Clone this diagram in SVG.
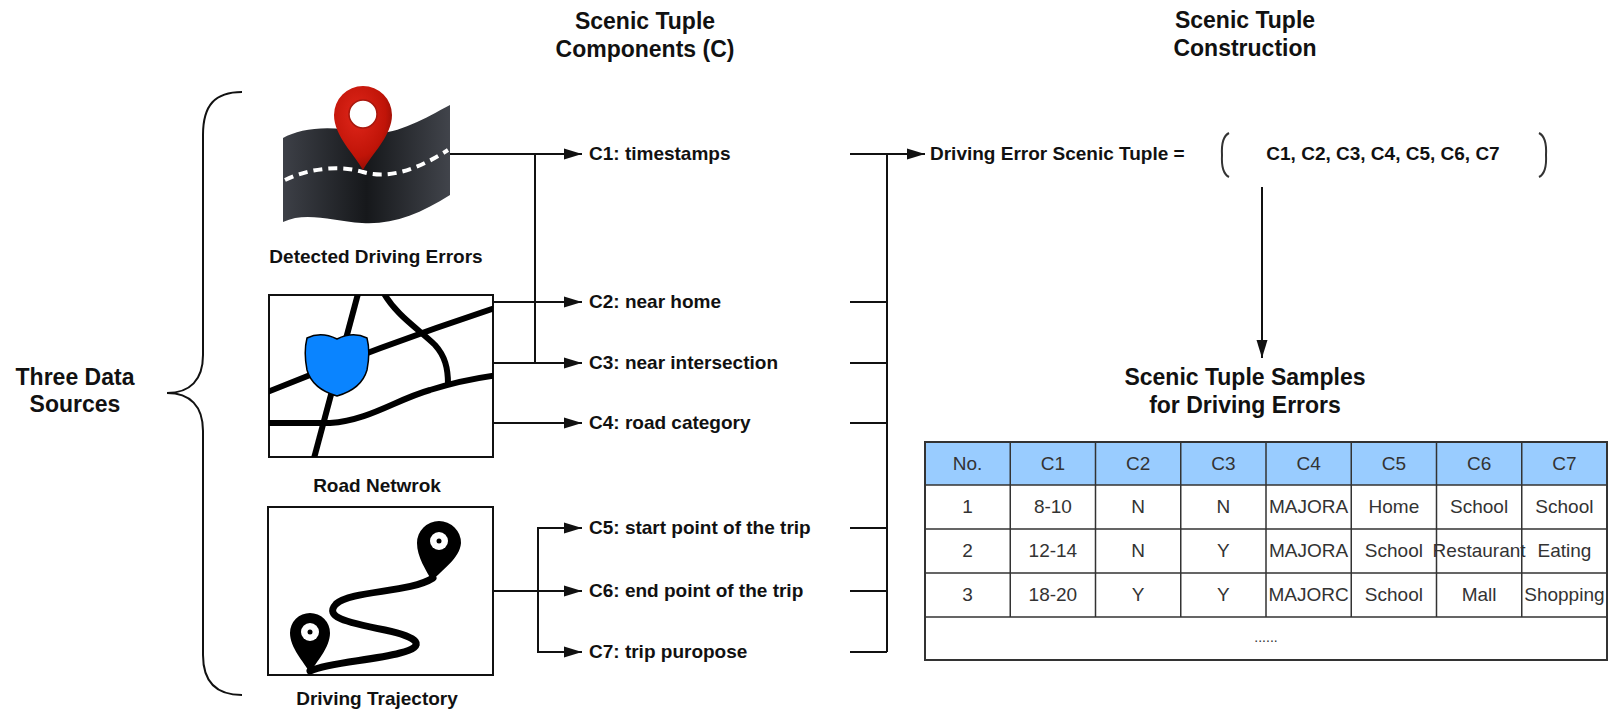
<svg xmlns="http://www.w3.org/2000/svg" width="1608" height="713" viewBox="0 0 1608 713">
  <style>
    text { font-family: "Liberation Sans", Arial, sans-serif; fill: #111; }
    .title { font-size: 23px; font-weight: bold; text-anchor: middle; }
    .label { font-size: 19px; font-weight: bold; }
    .caption { font-size: 19px; font-weight: bold; text-anchor: middle; }
    .cell { font-size: 19px; text-anchor: middle; fill: #333; }
    .wire { fill: none; stroke: #111; stroke-width: 2; }
    .frame { fill: #fff; stroke: #111; stroke-width: 2; }
    .road { fill: none; stroke: #000; stroke-width: 6; stroke-linecap: butt; }
    .grid { fill: none; stroke: #333; stroke-width: 1.5; }
  </style>
  <defs>
    <marker id="arrow" viewBox="0 0 18 12" refX="18" refY="6" markerWidth="18" markerHeight="12" markerUnits="userSpaceOnUse" orient="auto">
      <path d="M0,0.5 L18,6 L0,11.5 Z" fill="#111"/>
    </marker>
    <linearGradient id="asphalt" x1="0" y1="0" x2="1" y2="0">
      <stop offset="0" stop-color="#3d4047"/>
      <stop offset="0.5" stop-color="#16181b"/>
      <stop offset="1" stop-color="#41444b"/>
    </linearGradient>
    <radialGradient id="pinRed" cx="0.4" cy="0.35" r="0.7">
      <stop offset="0" stop-color="#e0261a"/>
      <stop offset="0.7" stop-color="#c01408"/>
      <stop offset="1" stop-color="#8c0c05"/>
    </radialGradient>
    <clipPath id="roadClip">
      <rect x="269" y="295" width="224" height="162"/>
    </clipPath>
  </defs>

  <!-- column headings -->
  <g id="heading-components">
    <text class="title" x="645" y="29">Scenic Tuple</text>
    <text class="title" x="645" y="57">Components (C)</text>
  </g>
  <g id="heading-construction">
    <text class="title" x="1245" y="28">Scenic Tuple</text>
    <text class="title" x="1245" y="56">Construction</text>
  </g>

  <!-- data sources with brace -->
  <g id="three-data-sources">
    <text class="title" x="75" y="385">Three Data</text>
    <text class="title" x="75" y="412">Sources</text>
    <path class="wire" d="M242,92 C215,92 203,105 203,135 L203,355 C203,380 190,393 167,393 C190,393 203,406 203,431 L203,655 C203,681 215,695 242,695"/>
  </g>

  <!-- source 1: detected driving errors -->
  <g id="detected-driving-errors">
    <path d="M283,138 C300,128 330,125 360,132 C390,139 420,121 450,105 L450,195 C420,214 392,225 362,223 C332,221 306,211 283,222 Z" fill="url(#asphalt)"/>
    <path d="M285,180 C310,168 340,165 363,172 C390,180 420,168 448,150" fill="none" stroke="#fff" stroke-width="4" stroke-dasharray="9 6"/>
    <path d="M363,170 C355,155 334,136 334,115 A29,29 0 1 1 392,115 C392,136 371,155 363,170 Z" fill="url(#pinRed)"/>
    <circle cx="363" cy="114" r="14" fill="#fff" stroke="#a8170d" stroke-width="1.5"/>
    <text class="caption" x="376" y="263">Detected Driving Errors</text>
  </g>

  <!-- source 2: road network -->
  <g id="road-network">
    <rect class="frame" x="269" y="295" width="224" height="162"/>
    <g clip-path="url(#roadClip)">
      <path class="road" d="M359,290 L313,462"/>
      <path class="road" d="M265,393 Q380,346 498,307"/>
      <path class="road" d="M382,290 C395,315 420,330 435,345 C445,356 448,368 448,384"/>
      <path class="road" d="M265,423 L330,423 C370,420 395,400 430,390 C455,382 475,378 498,375"/>
    </g>
    <path d="M307,338 Q321,331 337,339 Q353,331 367,338 C370,350 369,360 367,370 C363,384 351,392 337,396 C323,392 311,384 307,370 C305,360 304,350 307,338 Z" fill="#0a84ff" stroke="#000" stroke-width="1.5"/>
    <text class="caption" x="377" y="492">Road Netwrok</text>
  </g>

  <!-- source 3: driving trajectory -->
  <g id="driving-trajectory">
    <rect class="frame" x="268" y="507" width="225" height="168"/>
    <path d="M433,578 C410,593 352,590 336,604 C324,617 345,622 385,630 C418,637 428,646 400,653 C370,661 330,662 310,671" fill="none" stroke="#000" stroke-width="7" stroke-linecap="round"/>
    <path d="M432,581 C426,570 417,557 417,543 A22,22 0 1 1 461,543 C460,558 442,570 432,581 Z" fill="#000"/>
    <circle cx="439" cy="541" r="9" fill="#fff"/>
    <circle cx="439" cy="541" r="2.5" fill="#000"/>
    <path d="M310,673 C304,662 290,648 290,633 A20,20 0 1 1 330,633 C330,648 316,662 310,673 Z" fill="#000"/>
    <circle cx="310" cy="632" r="9" fill="#fff"/>
    <circle cx="310" cy="632" r="2.5" fill="#000"/>
    <text class="caption" x="377" y="705">Driving Trajectory</text>
  </g>

  <!-- component labels -->
  <g id="components">
    <text class="label" x="589" y="160">C1: timestamps</text>
    <text class="label" x="589" y="308">C2: near home</text>
    <text class="label" x="589" y="369">C3: near intersection</text>
    <text class="label" x="589" y="429">C4: road category</text>
    <text class="label" x="589" y="534">C5: start point of the trip</text>
    <text class="label" x="589" y="597">C6: end point of the trip</text>
    <text class="label" x="589" y="658">C7: trip puropose</text>
  </g>

  <!-- tuple definition -->
  <g id="tuple-definition">
    <text class="label" x="930" y="160">Driving Error Scenic Tuple =</text>
    <path d="M1229,133 Q1221,137 1222,155 Q1221,173 1229,177" fill="none" stroke="#333" stroke-width="2"/>
    <text class="label" x="1383" y="160" text-anchor="middle">C1, C2, C3, C4, C5, C6, C7</text>
    <path d="M1539,133 Q1547,137 1546,155 Q1547,173 1539,177" fill="none" stroke="#333" stroke-width="2"/>
  </g>

  <!-- sample table -->
  <g id="tuple-samples">
    <text class="title" x="1245" y="385">Scenic Tuple Samples</text>
    <text class="title" x="1245" y="413">for Driving Errors</text>
    <rect x="925" y="442" width="682" height="43" fill="#99ccff"/>
    <rect x="925" y="485" width="682" height="175" fill="#fff"/>
    <g class="grid">
      <rect x="925" y="442" width="682" height="218" stroke-width="2"/>
      <path d="M925,485 H1607 M925,529 H1607 M925,573 H1607 M925,617 H1607"/>
      <path d="M1010.25,442 V617 M1095.5,442 V617 M1180.75,442 V617 M1266,442 V617 M1351.25,442 V617 M1436.5,442 V617 M1521.75,442 V617"/>
    </g>
    <g>
      <text class="cell" x="967.6" y="470">No.</text>
      <text class="cell" x="1052.9" y="470">C1</text>
      <text class="cell" x="1138.1" y="470">C2</text>
      <text class="cell" x="1223.4" y="470">C3</text>
      <text class="cell" x="1308.6" y="470">C4</text>
      <text class="cell" x="1393.9" y="470">C5</text>
      <text class="cell" x="1479.1" y="470">C6</text>
      <text class="cell" x="1564.4" y="470">C7</text>

      <text class="cell" x="967.6" y="513">1</text>
      <text class="cell" x="1052.9" y="513">8-10</text>
      <text class="cell" x="1138.1" y="513">N</text>
      <text class="cell" x="1223.4" y="513">N</text>
      <text class="cell" x="1308.6" y="513">MAJORA</text>
      <text class="cell" x="1393.9" y="513">Home</text>
      <text class="cell" x="1479.1" y="513">School</text>
      <text class="cell" x="1564.4" y="513">School</text>

      <text class="cell" x="967.6" y="557">2</text>
      <text class="cell" x="1052.9" y="557">12-14</text>
      <text class="cell" x="1138.1" y="557">N</text>
      <text class="cell" x="1223.4" y="557">Y</text>
      <text class="cell" x="1308.6" y="557">MAJORA</text>
      <text class="cell" x="1393.9" y="557">School</text>
      <text class="cell" x="1479.1" y="557">Restaurant</text>
      <text class="cell" x="1564.4" y="557">Eating</text>

      <text class="cell" x="967.6" y="601">3</text>
      <text class="cell" x="1052.9" y="601">18-20</text>
      <text class="cell" x="1138.1" y="601">Y</text>
      <text class="cell" x="1223.4" y="601">Y</text>
      <text class="cell" x="1308.6" y="601">MAJORC</text>
      <text class="cell" x="1393.9" y="601">School</text>
      <text class="cell" x="1479.1" y="601">Mall</text>
      <text class="cell" x="1564.4" y="601">Shopping</text>

      <text class="cell" x="1266" y="642" style="font-size:14px">......</text>
    </g>
  </g>

  <!-- connectors -->
  <g id="connectors">
    <path class="wire" d="M450,154 H582" marker-end="url(#arrow)"/>
    <path class="wire" d="M535,154 V363"/>
    <path class="wire" d="M493,302 H582" marker-end="url(#arrow)"/>
    <path class="wire" d="M493,363 H582" marker-end="url(#arrow)"/>
    <path class="wire" d="M493,423 H582" marker-end="url(#arrow)"/>
    <path class="wire" d="M493,591 H582" marker-end="url(#arrow)"/>
    <path class="wire" d="M538,591 V528 H582" marker-end="url(#arrow)"/>
    <path class="wire" d="M538,591 V652 H582" marker-end="url(#arrow)"/>
    <path class="wire" d="M850,154 H887 M850,302 H887 M850,363 H887 M850,423 H887 M850,528 H887 M850,591 H887 M850,652 H887"/>
    <path class="wire" d="M887,652 V154"/>
    <path class="wire" d="M887,154 H925" marker-end="url(#arrow)"/>
    <path class="wire" d="M1262,187 V358" marker-end="url(#arrow)"/>
  </g>
</svg>
